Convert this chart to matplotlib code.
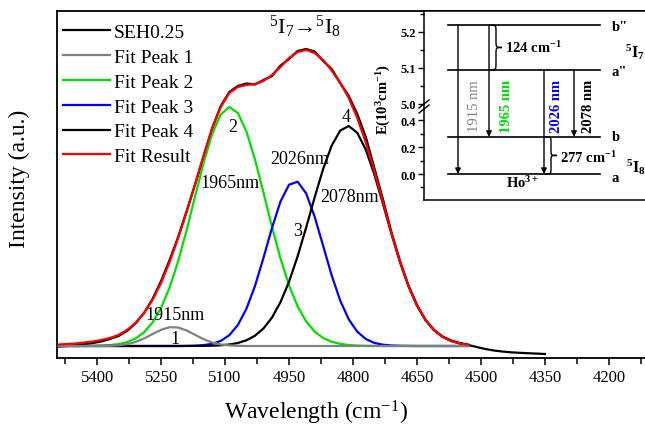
import matplotlib
matplotlib.use("Agg")
import matplotlib.pyplot as plt
from matplotlib.path import Path
from matplotlib.patches import PathPatch
from matplotlib.lines import Line2D

plt.rcParams['font.family'] = ['Liberation Serif', 'DejaVu Serif']
plt.rcParams['mathtext.fontset'] = 'custom'
plt.rcParams['mathtext.rm'] = 'Liberation Serif'
plt.rcParams['mathtext.it'] = 'Liberation Serif:italic'
plt.rcParams['mathtext.bf'] = 'Liberation Serif:bold'

# --- espectro medido y ajuste (cm-1, intensidad a.u.) ---
fit_x = [5490, 5470, 5450, 5430, 5410, 5390, 5370, 5350, 5330, 5310,
         5290, 5270, 5250, 5230, 5210, 5190, 5170, 5150, 5130, 5110,
         5090, 5070, 5050, 5030, 5010, 4990, 4970, 4950, 4930, 4910,
         4890, 4870, 4850, 4830, 4810, 4790, 4770, 4750, 4730, 4710,
         4690, 4670, 4650, 4630, 4610, 4590, 4570, 4550, 4530]
data_x = fit_x + [4510, 4490, 4470, 4450, 4430, 4410, 4390, 4370, 4350]

seh = [-0.5, 0, 0.8, 1.8, 3, 4.5, 7, 10, 15, 22.5,
       33, 47, 65, 86, 109, 135, 162, 190, 218, 240,
       254, 260, 262.5, 261.5, 266, 270, 280.5, 287, 295, 297,
       294.5, 285, 277, 263, 250, 232, 209, 178, 147, 114,
       85, 60.5, 41, 26, 16, 9.5, 5.5, 3, 1,
       -1, -3, -4.5, -5.5, -6.3, -6.8, -7.2, -7.6, -8]

peak1 = [0, 0, 0, 0, 0, 0, 0.2, 0.7, 1.8, 4.0,
         7.5, 12.0, 16.2, 18.8, 18.5, 15.5, 11.1, 6.7, 3.5, 1.5,
         0.6, 0.2, 0, 0, 0, 0, 0, 0, 0, 0,
         0, 0, 0, 0, 0, 0, 0, 0, 0, 0,
         0, 0, 0, 0, 0, 0, 0, 0, 0]
peak2 = [0, 0, 0, 0.1, 0.2, 0.4, 0.9, 1.9, 3.9, 7.5,
         13.6, 23.5, 38.1, 58.4, 84.7, 116.0, 150.1, 183.6, 212.2, 231.6,
         239.0, 233.0, 214.6, 186.8, 153.6, 119.3, 87.6, 60.8, 39.8, 24.7,
         14.4, 8.0, 4.2, 2.1, 1.0, 0.4, 0.2, 0.1, 0, 0,
         0, 0, 0, 0, 0, 0, 0, 0, 0]
peak3 = [0, 0, 0, 0, 0, 0, 0, 0, 0, 0,
         0, 0, 0, 0, 0, 0.1, 0.3, 0.9, 2.2, 5.1,
         10.8, 21.0, 37.1, 59.8, 88.0, 118.1, 144.5, 161.3, 164.3, 152.7,
         129.4, 100.1, 70.6, 45.4, 26.7, 14.3, 7.0, 3.1, 1.3, 0.5,
         0.2, 0.1, 0, 0, 0, 0, 0, 0, 0]
peak4 = [0, 0, 0, 0, 0, 0, 0, 0, 0, 0,
         0, 0, 0, 0, 0, 0.0, 0.1, 0.1, 0.3, 0.7,
         1.5, 3.0, 5.7, 10.2, 17.5, 28.4, 43.9, 64.3, 89.5, 118.3,
         148.5, 177.1, 200.4, 215.4, 220.0, 213.2, 196.3, 171.6, 142.5, 112.4,
         84.2, 59.8, 40.4, 25.9, 15.8, 9.1, 5.0, 2.6, 1.3]
fit_result = [1.5, 2.0, 2.5, 3.5, 4.5, 6.0, 8.0, 11.0, 16.0, 23.0,
              33.0, 46.0, 63.0, 84.0, 108.0, 134.0, 162.0, 191.0, 218.0, 239.0,
              253.0, 259.0, 261.0, 262.0, 265.0, 271.0, 279.0, 288.0, 294.0, 296.0,
              293.0, 286.0, 275.5, 263.0, 248.0, 228.0, 203.5, 175.0, 144.0, 113.0,
              84.5, 60.0, 40.5, 26.0, 16.0, 9.0, 5.0, 2.6, 1.3]

x_ticks = [5400, 5250, 5100, 4950, 4800, 4650, 4500, 4350, 4200]

# etiquetas de cada pico: (numero, x, y) y (longitud de onda, x, y)
peak_nums = [("1", 5217, 7), ("2", 5081, 219), ("3", 4929, 115), ("4", 4816, 229)]
peak_nm = [("1915nm", 5217, 31), ("1965nm", 5088, 164),
           ("2026nm", 4924, 187), ("2078nm", 4807, 150)]

# --- niveles de energia del Ho3+ (10^3 cm-1) ---
lvl_names = ["a", "b", 'a"', 'b"']
lvl_E = [0.0, 0.277, 5.095, 5.219]
lvl_dy = [-0.025, 0.0, -0.005, -0.005]
# transiciones: (desde, hasta, texto, color, negrita)
trans = [(3, 0, "1915 nm", "#808080", "normal"),
         (3, 1, "1965 nm", "#00e000", "bold"),
         (2, 0, "2026 nm", "#0000ff", "bold"),
         (2, 1, "2078 nm", "black", "bold")]

W, H = 645, 427
fig = plt.figure(figsize=(W / 100, H / 100), dpi=100)

def fx(px):
    return px / W

def fy(py):
    return 1 - py / H

ax = fig.add_axes([fx(57), fy(359), fx(652) - fx(57), fy(12) - fy(359)])
ax.plot(data_x, seh, color='black', lw=1.6, label='SEH0.25', zorder=2)
ax.plot(fit_x, peak1, color='#808080', lw=1.6, label='Fit Peak 1', zorder=3.5)
ax.plot(fit_x, peak2, color='#00e000', lw=1.6, label='Fit Peak 2', zorder=3)
ax.plot(fit_x, peak3, color='#0000ff', lw=1.6, label='Fit Peak 3', zorder=3)
ax.plot(fit_x, peak4, color='black', lw=1.6, label='Fit Peak 4', zorder=3)
ax.plot(fit_x, fit_result, color='#ff0000', lw=1.6, label='Fit Result', zorder=4)

ax.set_xlim(5494, 4099)
ax.set_ylim(-12, 335)
ax.set_xticks(x_ticks)
ax.set_xticks([t - 75 for t in x_ticks] + [x_ticks[0] + 75], minor=True)
ax.set_yticks([])
ax.tick_params(axis='x', which='major', direction='out', length=5, width=1.1,
               labelsize=12, pad=3)
ax.tick_params(axis='x', which='minor', direction='out', length=4, width=1.1)
for s in ax.spines.values():
    s.set_linewidth(1.3)
ax.spines['right'].set_visible(False)

ax.set_xlabel('Wavelength (cm$^{-1}$)', fontsize=17, labelpad=2)
ax.xaxis.set_label_coords((316 - 57) / (652 - 57), -0.115)
ax.set_ylabel('Intensity (a.u.)', fontsize=17)
ax.yaxis.set_label_coords(-0.046, 0.52)

for t, x, y in peak_nums + peak_nm:
    ax.text(x, y, t, fontsize=13, ha='center', va='center', zorder=5)
ax.text(4913, 320, '$^5$I$_7$→$^5$I$_8$', fontsize=16, ha='center', va='center')

ax.legend(loc='upper left', bbox_to_anchor=(-0.011, 1.0), frameon=False, fontsize=14,
          handlelength=2.4, handletextpad=0.2, labelspacing=0.37,
          borderaxespad=0.35, borderpad=0.3)

# --- inset: diagrama de niveles con eje partido ---
brk = 110
up = fig.add_axes([fx(424), fy(brk), fx(652) - fx(424), fy(12) - fy(brk)])
lo = fig.add_axes([fx(424), fy(201), fx(652) - fx(424), fy(brk) - fy(201)])
up.set_ylim(5.0 - 5 / 360, 5.0 + 93 / 360)
lo.set_ylim(-26 / 134, 65 / 134)
for a in (up, lo):
    a.set_xlim(0, 228)
    a.set_xticks([])
    a.spines['right'].set_visible(False)
    for s in a.spines.values():
        s.set_linewidth(1.1)
    a.tick_params(axis='y', which='both', direction='out', width=1, labelsize=9, pad=2)
    a.tick_params(axis='y', which='major', length=4)
    a.tick_params(axis='y', which='minor', length=3)
up.spines['bottom'].set_visible(False)
lo.spines['top'].set_visible(False)
up.set_yticks([5.0, 5.1, 5.2])
up.set_yticks([5.05, 5.15, 5.25], minor=True)
up.set_yticklabels(['5.0', '5.1', '5.2'], fontweight='bold')
lo.set_yticks([0.0, 0.2, 0.4])
lo.set_yticks([-0.1, 0.1, 0.3], minor=True)
lo.set_yticklabels(['0.0', '0.2', '0.4'], fontweight='bold')

fig.text(fx(384), fy(99), 'E(10$^{\\mathbf{3}}$cm$^{\\mathbf{-1}}$)', rotation=90,
         fontsize=10.5, fontweight='bold', ha='center', va='center')

# marcas de corte en el eje
for dy in (0, -5):
    fig.add_artist(Line2D([fx(419), fx(429)], [fy(brk + 4 + dy), fy(brk - 4 + dy)],
                          color='black', lw=1, transform=fig.transFigure))

def lvl_axes(i):
    return up if lvl_E[i] > 1 else lo

# lineas de nivel y sus letras
for i, (name, e) in enumerate(zip(lvl_names, lvl_E)):
    a = lvl_axes(i)
    a.plot([24, 176], [e, e], color='black', lw=1.2)
    a.text(188, e + lvl_dy[i], name, fontsize=10.5, fontweight='bold',
           ha='left', va='center')

# flechas de transicion
arrow_x = [34, 65, 120, 150]
label_x = [475, 506, 557, 588]
for (i, j, txt, col, wt), xa, xl in zip(trans, arrow_x, label_x):
    ai, aj = lvl_axes(i), lvl_axes(j)
    aj.annotate('', xy=(xa, lvl_E[j]), xycoords=aj.transData,
                xytext=(xa, lvl_E[i]), textcoords=ai.transData,
                arrowprops=dict(arrowstyle='-|>', color='black', lw=1,
                                mutation_scale=8, shrinkA=0, shrinkB=0))
    fig.text(fx(xl), fy(106), txt, rotation=90, color=col, fontsize=10.5,
             fontweight=wt, ha='center', va='center')

def brace(a, x, y0, y1, w):
    ym = (y0 + y1) / 2
    h = y1 - y0
    xm = x + w / 2
    verts = [(x, y1), (xm, y1), (xm, y1), (xm, y1 - 0.15 * h),
             (xm, ym + 0.15 * h),
             (xm, ym), (xm, ym), (x + w, ym),
             (xm, ym), (xm, ym), (xm, ym - 0.15 * h),
             (xm, y0 + 0.15 * h),
             (xm, y0), (xm, y0), (x, y0)]
    codes = [Path.MOVETO, Path.CURVE4, Path.CURVE4, Path.CURVE4,
             Path.LINETO,
             Path.CURVE4, Path.CURVE4, Path.CURVE4,
             Path.CURVE4, Path.CURVE4, Path.CURVE4,
             Path.LINETO,
             Path.CURVE4, Path.CURVE4, Path.CURVE4]
    a.add_patch(PathPatch(Path(verts, codes), fc='none', ec='black', lw=1))

brace(up, 66, lvl_E[2], lvl_E[3], 12)
up.text(81, (lvl_E[2] + lvl_E[3]) / 2, '124 cm$^{\\mathbf{-1}}$', fontsize=10.5,
        fontweight='bold', ha='left', va='center')
brace(lo, 121, lvl_E[0], lvl_E[1], 12)
lo.text(136, 0.13, '277 cm$^{\\mathbf{-1}}$', fontsize=10.5,
        fontweight='bold', ha='left', va='center')
lo.text(98, -0.06, 'Ho$^{\\mathbf{3+}}$', fontsize=10.5, fontweight='bold',
        ha='center', va='center')
up.text(201, 5.148, '$^{\\mathbf{5}}$I$_{\\mathbf{7}}$', fontsize=11.5,
        fontweight='bold', ha='left', va='center')
lo.text(202, 0.06, '$^{\\mathbf{5}}$I$_{\\mathbf{8}}$', fontsize=11.5,
        fontweight='bold', ha='left', va='center')

fig.savefig('out.png', dpi=100)
